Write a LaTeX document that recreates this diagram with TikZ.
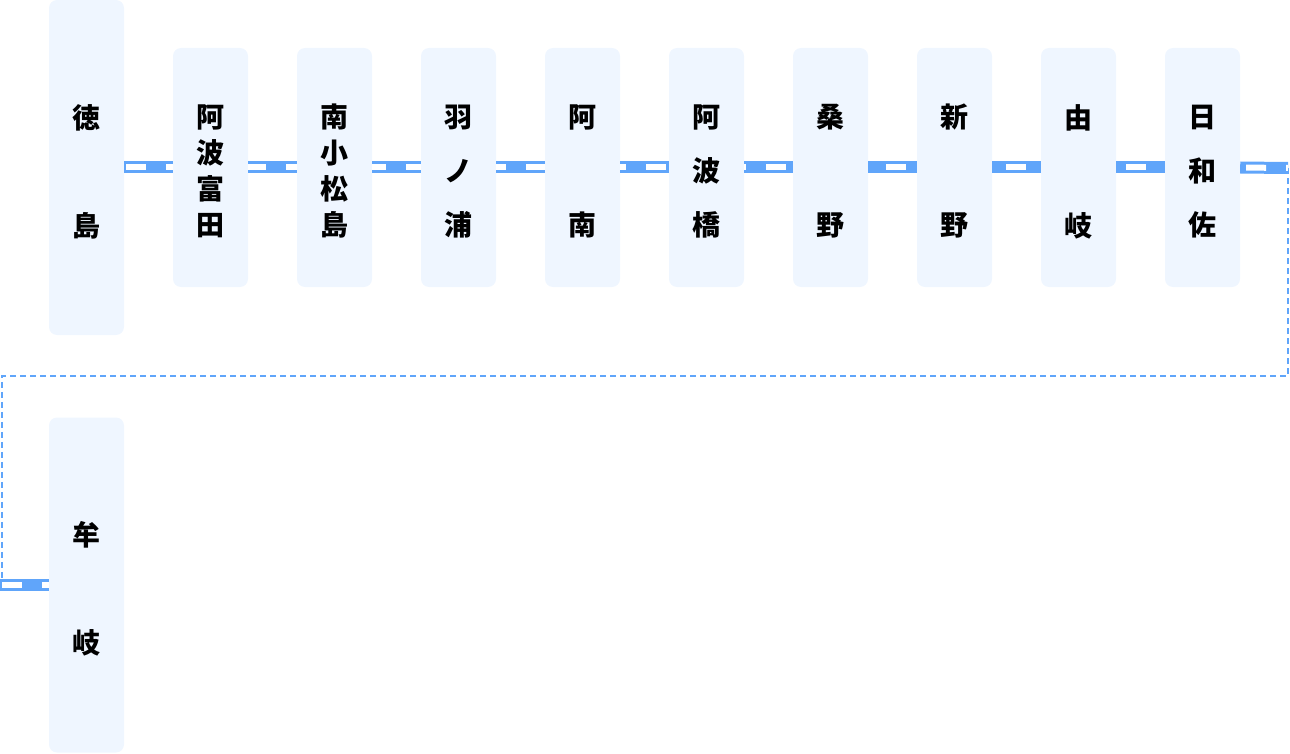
\documentclass[tikz,border=0pt]{standalone}
\usepackage{fontspec}
\newfontfamily\jpfont{Noto Sans CJK JP}
\definecolor{boxblue}{RGB}{239,246,255}
\definecolor{lineblue}{RGB}{96,165,250}
\begin{document}
\begin{tikzpicture}[x=1pt,y=-1pt,
    stn/.style 2 args={fill=boxblue,rounded corners=8pt,minimum width=75pt,minimum height=239pt,
      inner sep=0pt,label={[txt=#1]center:#2}},
    txt/.style={align=center,inner sep=0pt,yshift=-4pt,
      font=\jpfont\bfseries\fontsize{28}{#1}\selectfont},
    tall/.style={minimum height=335pt},
    bar/.style={draw=lineblue,line width=12pt},
    gap/.style={draw=white,line width=6pt,dash pattern=on 20pt off 20pt},
    route/.style={draw=lineblue,line width=2pt,dash pattern=on 6pt off 4pt}]
    \useasboundingbox (0,0) rectangle (1290,754);
    \node[stn={108}{徳\\島},tall] (S0) at (86.5,167.5) {};
    \node[stn={36}{阿\\波\\富\\田}] (S1) at (210.5,167.5) {};
    \node[stn={36}{南\\小\\松\\島}] (S2) at (334.5,167.5) {};
    \node[stn={54}{羽\\ノ\\浦}] (S3) at (458.5,167.5) {};
    \node[stn={108}{阿\\南}] (S4) at (582.5,167.5) {};
    \node[stn={54}{阿\\波\\橋}] (S5) at (706.5,167.5) {};
    \node[stn={108}{桑\\野}] (S6) at (830.5,167.5) {};
    \node[stn={108}{新\\野}] (S7) at (954.5,167.5) {};
    \node[stn={108}{由\\岐}] (S8) at (1078.5,167.5) {};
    \node[stn={54}{日\\和\\佐}] (S9) at (1202.5,167.5) {};
    \node[stn={108}{牟\\岐},tall] (S10) at (86.5,585) {};
    \coordinate (R) at (1288,168);
    \coordinate (L) at (0,585);
    \draw[route] (R) -- (1288,376) -- (2,376) -- (2,585);
    \foreach \i [evaluate=\i as \j using int(\i+1),
                 evaluate=\i as \ph using {int(mod(4*\i+38,40))}] in {0,...,8} {
      \draw[bar] (S\i.east) -- (S\j.west);
      \draw[gap,dash phase=\ph] (S\i.east) -- (S\j.west);
    }
    \draw[bar] (S9.east) -- (R);
    \draw[gap,dash phase=34] (S9.east) -- (R);
    \draw[bar] (L) -- (S10.west);
    \draw[gap,dash phase=38] (L) -- (S10.west);
\end{tikzpicture}
\end{document}
